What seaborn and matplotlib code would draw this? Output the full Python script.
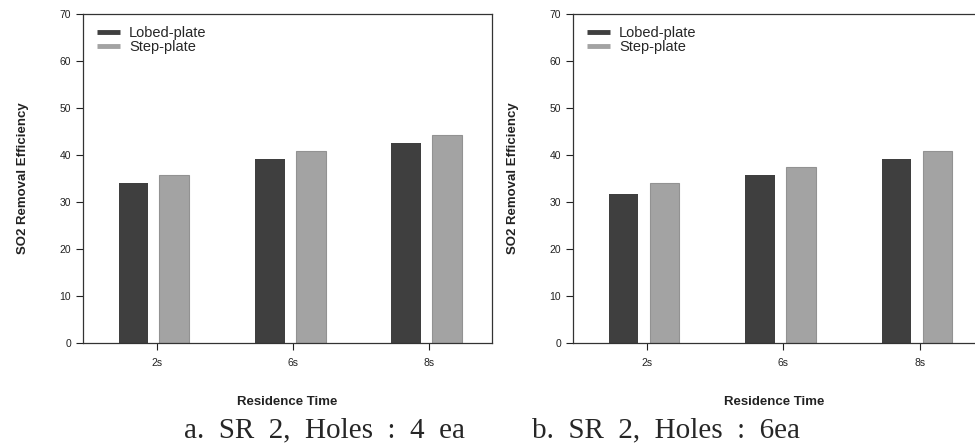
import numpy as np
import pandas as pd
import matplotlib
matplotlib.use("Agg")
import matplotlib.pyplot as plt
import seaborn as sns

times = ["2s", "6s", "8s"]
plates = ["Lobed-plate", "Step-plate"]
lobed_4ea = [34.1, 39.1, 42.5]
step_4ea = [35.7, 40.9, 44.3]
lobed_6ea = [31.8, 35.7, 39.1]
step_6ea = [34.1, 37.5, 40.9]
captions = ["a.  SR  2,  Holes  :  4  ea", "b.  SR  2,  Holes  :  6ea"]

colors = {"Lobed-plate": "#3f3f3f", "Step-plate": "#a3a3a3"}


def make_frame(lobed, step):
    return pd.DataFrame({
        "time": times * 2,
        "plate": [plates[0]] * 3 + [plates[1]] * 3,
        "eff": list(lobed) + list(step),
    })


sns.set_style("ticks")
plt.rcParams["font.family"] = ["Liberation Sans", "DejaVu Sans"]

fig = plt.figure(figsize=(9.75, 4.47), dpi=100)
ax_a = fig.add_axes([83 / 975, 1 - 343 / 447, 409 / 975, 329 / 447])
ax_b = fig.add_axes([573 / 975, 1 - 343 / 447, 402 / 975, 329 / 447])

panels = [(ax_a, make_frame(lobed_4ea, step_4ea), 2.48),
          (ax_b, make_frame(lobed_6ea, step_6ea), 2.425)]

for ax, df, xr in panels:
    sns.barplot(data=df, x="time", y="eff", hue="plate", palette=colors,
                width=0.60, gap=0.27, ax=ax, legend=False, linewidth=0)
    for bar in ax.patches[3:]:
        bar.set_edgecolor("#929292")
        bar.set_linewidth(0.8)
    ax.set_ylim(0, 70)
    ax.set_yticks(range(0, 71, 10))
    ax.set_xlim(-0.52, xr)
    ax.set_xticks(np.arange(3) + 0.02)
    ax.set_xticklabels(times)
    ax.tick_params(axis="both", labelsize=7.5, length=5, width=0.8,
                   colors="#222222", direction="out")
    ax.tick_params(axis="x", pad=6)
    for side in ["left", "right", "top", "bottom"]:
        ax.spines[side].set_visible(True)
        ax.spines[side].set_linewidth(0.9)
        ax.spines[side].set_color("#333333")
    ax.set_ylabel("SO2 Removal Efficiency", fontsize=9.5, fontweight="bold",
                  labelpad=22, color="#222222")
    ax.set_xlabel("Residence Time", fontsize=9.5, fontweight="bold",
                  labelpad=20, color="#222222")
    handles = [plt.Line2D([], [], color=colors[p], lw=3.5,
                          solid_capstyle="butt") for p in plates]
    ax.legend(handles, plates, loc="upper left", frameon=False,
              fontsize=10.5, handlelength=1.6, handletextpad=0.6,
              labelspacing=0.0, borderaxespad=0.0,
              bbox_to_anchor=(0.02, 0.98))

ax_b.spines["right"].set_visible(False)

fig.text(325 / 975, 1 - 430 / 447, captions[0], ha="center", va="center",
         fontsize=21, family="Liberation Serif")
fig.text(666 / 975, 1 - 430 / 447, captions[1], ha="center", va="center",
         fontsize=21, family="Liberation Serif")

fig.savefig("out.png", dpi=100)
